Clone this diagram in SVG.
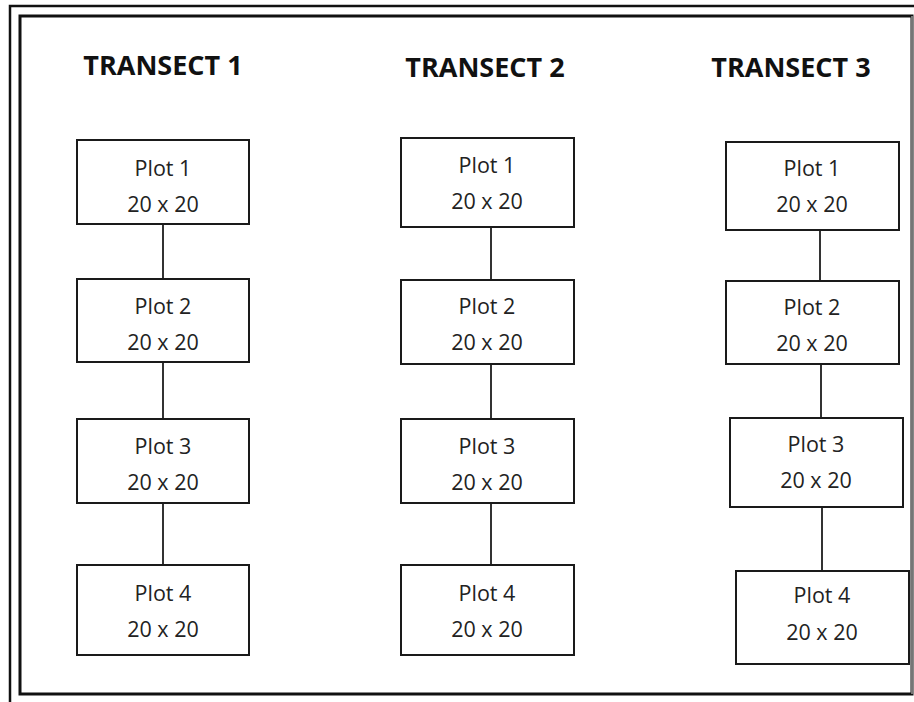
<svg xmlns="http://www.w3.org/2000/svg" width="914" height="702" viewBox="0 0 914 702">
<style>
.box{fill:#fff;stroke:#1a1a1a;stroke-width:2}
.t{font-family:"Open Sans","Liberation Sans",sans-serif;font-size:21.5px;fill:#222;text-anchor:middle}
.h{font-family:"Open Sans","Liberation Sans",sans-serif;font-size:27px;font-weight:bold;fill:#111;text-anchor:middle}
.c{stroke:#333;stroke-width:2;fill:none}
</style>
<rect width="914" height="702" fill="#fff"/>
<g id="frame">
<path d="M10,702 V6 H914" fill="none" stroke="#111" stroke-width="2.5"/>
<path d="M20,694 V16 H912 V694 Z" fill="none" stroke="#111" stroke-width="3"/>
<line x1="912" y1="16" x2="912" y2="694" stroke="#999" stroke-width="1.5"/>
</g>
<g id="titles">
<text class="h" x="163" y="75">TRANSECT 1</text>
<text class="h" x="485" y="77">TRANSECT 2</text>
<text class="h" x="791" y="77">TRANSECT 3</text>
</g>
<g id="connectors">
<line class="c" x1="163" y1="224" x2="163" y2="279"/>
<line class="c" x1="163" y1="362" x2="163" y2="419"/>
<line class="c" x1="163" y1="503" x2="163" y2="565"/>
<line class="c" x1="491" y1="227" x2="491" y2="280"/>
<line class="c" x1="491" y1="364" x2="491" y2="419"/>
<line class="c" x1="491" y1="503" x2="491" y2="565"/>
<line class="c" x1="820" y1="230" x2="820" y2="281"/>
<line class="c" x1="821" y1="364" x2="821" y2="418"/>
<line class="c" x1="822" y1="507" x2="822" y2="571" stroke="#555"/>
</g>
<g id="t1p1"><rect class="box" x="77" y="140" width="172" height="84"/><text class="t" x="163" y="176">Plot 1</text><text class="t" x="163" y="212">20 x 20</text></g>
<g id="t1p2"><rect class="box" x="77" y="279" width="172" height="83"/><text class="t" x="163" y="314">Plot 2</text><text class="t" x="163" y="350">20 x 20</text></g>
<g id="t1p3"><rect class="box" x="77" y="419" width="172" height="84"/><text class="t" x="163" y="454">Plot 3</text><text class="t" x="163" y="490">20 x 20</text></g>
<g id="t1p4"><rect class="box" x="77" y="565" width="172" height="90"/><text class="t" x="163" y="601">Plot 4</text><text class="t" x="163" y="637">20 x 20</text></g>
<g id="t2p1"><rect class="box" x="401" y="138" width="173" height="89"/><text class="t" x="487" y="173">Plot 1</text><text class="t" x="487" y="209">20 x 20</text></g>
<g id="t2p2"><rect class="box" x="401" y="280" width="173" height="84"/><text class="t" x="487" y="314">Plot 2</text><text class="t" x="487" y="350">20 x 20</text></g>
<g id="t2p3"><rect class="box" x="401" y="419" width="173" height="84"/><text class="t" x="487" y="454">Plot 3</text><text class="t" x="487" y="490">20 x 20</text></g>
<g id="t2p4"><rect class="box" x="401" y="565" width="173" height="90"/><text class="t" x="487" y="601">Plot 4</text><text class="t" x="487" y="637">20 x 20</text></g>
<g id="t3p1"><rect class="box" x="726" y="142" width="173" height="88"/><text class="t" x="812" y="176">Plot 1</text><text class="t" x="812" y="212">20 x 20</text></g>
<g id="t3p2"><rect class="box" x="726" y="281" width="173" height="83"/><text class="t" x="812" y="315">Plot 2</text><text class="t" x="812" y="351">20 x 20</text></g>
<g id="t3p3"><rect class="box" x="730" y="418" width="173" height="89"/><text class="t" x="816" y="452">Plot 3</text><text class="t" x="816" y="488">20 x 20</text></g>
<g id="t3p4"><rect class="box" x="736" y="571" width="173" height="93"/><text class="t" x="822" y="603">Plot 4</text><text class="t" x="822" y="640">20 x 20</text></g>
</svg>
